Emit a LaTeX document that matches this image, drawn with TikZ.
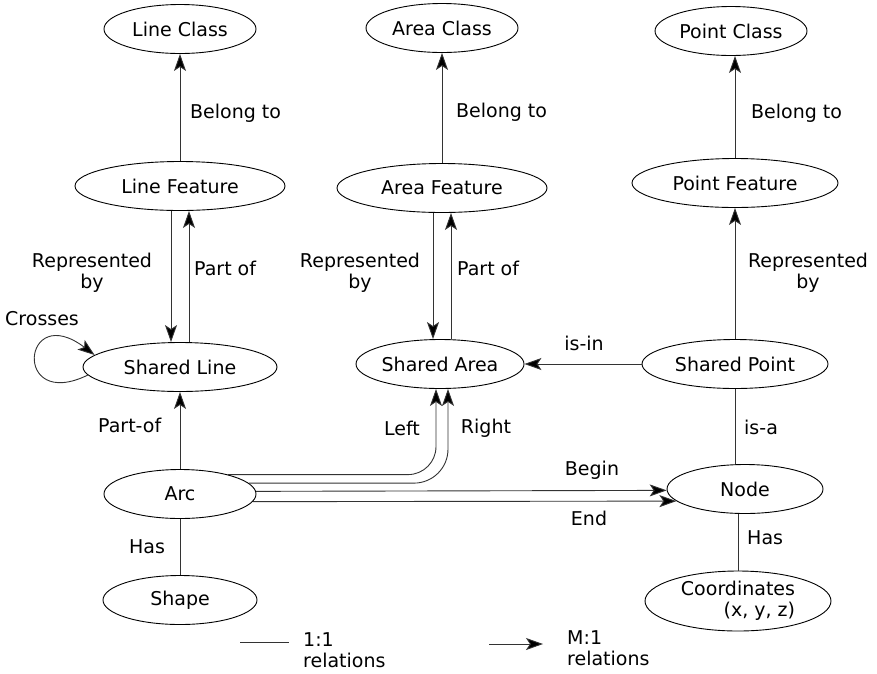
\documentclass[tikz,border=0pt]{standalone}
\usepackage{fontspec}
\setmainfont{DejaVu Sans}
\usetikzlibrary{arrows.meta, shapes.geometric}

\begin{document}
\begin{tikzpicture}[
  x=1pt, y=-1pt,
  font=\fontsize{19}{21}\selectfont,
  ent/.style={draw, ellipse, line width=0.9pt, inner sep=0pt,
              minimum width=#1, minimum height=49pt},
  arr/.style={-{Stealth[length=17pt,width=12pt,inset=4pt,fill=black]},
              line width=0.9pt, color=black!80},
  line/.style={line width=0.9pt, color=black!80},
  lbl/.style={inner sep=0pt},
]
\useasboundingbox (0,0) rectangle (877,673);

%% ---------- Class row ------------------------------------------
\node[ent=152pt] (lclass) at (180,29)  {Line Class};
\node[ent=152pt] (aclass) at (442,28)  {Area Class};
\node[ent=152pt] (pclass) at (731,31)  {Point Class};

%% ---------- Feature row ----------------------------------------
\node[ent=210pt] (lfeat)  at (180,186) {Line Feature};
\node[ent=210pt] (afeat)  at (442,188) {Area Feature};
\node[ent=206pt] (pfeat)  at (735,183) {Point Feature};

%% ---------- Shared row -----------------------------------------
\node[ent=194pt] (sline)  at (180,367) {Shared Line};
\node[ent=168pt] (sarea)  at (440,364) {Shared Area};
\node[ent=186pt] (spoint) at (735,364) {Shared Point};

%% ---------- Arc / Node row -------------------------------------
\node[ent=152pt] (arc)    at (180,494) {Arc};
\node[ent=156pt] (nnode)  at (745,489) {Node};
\node[ent=154pt] (shape)  at (180,600) {Shape};
\node[ent=186pt, minimum height=60pt, align=right] (coords) at (738,601)
      {Coordinates\\(x, y, z)};

%% ---- Arrows ---------------------------------------------------
\draw[arr] (lfeat)  -- (lclass);
\draw[arr] (afeat)  -- (aclass);
\draw[arr] (pfeat)  -- (pfeat |- pclass.south);

\draw[arr] ([xshift=-9pt]lfeat.south) -- ([xshift=-9pt]lfeat.south |- sline.north);
\draw[arr] ([xshift=9pt]sline.north)  -- ([xshift=9pt]sline.north |- lfeat.south);
\draw[arr] ([xshift=-9pt]afeat.south) -- ([xshift=-9pt]afeat.south |- sarea.north);
\draw[arr] ([xshift=11pt]sarea.north) -- ([xshift=11pt]sarea.north |- afeat.south);

\draw[arr] (spoint) -- (pfeat);
\draw[arr] (spoint) -- (sarea);
\draw[arr] (arc)    -- (sline);
\draw[line] (arc)   -- (shape);
\draw[line] (spoint) -- (spoint |- nnode.north);
\draw[line] (coords) -- (coords |- nnode.south);

%% Left / Right faces
\draw[arr, rounded corners=28pt] (arc.22) -| ([xshift=-4pt]sarea.south);
\draw[arr, rounded corners=34pt] (arc.9)  -| ([xshift=8pt]sarea.south);

%% Begin / End
\draw[arr] (arc.2)  -- (nnode.181);
\draw[arr] (arc.-6) -- (nnode.190);

%% Crosses loop
\draw[arr] (sline.185) .. controls (12,412) and (22,300) .. (sline.172);

%% ---- Labels ---------------------------------------------------
\node[lbl, anchor=west] (tbell) at (190,113) {Belong to};
\node[lbl, anchor=west] (tbela) at (456,112) {Belong to};
\node[lbl, anchor=west] (tbelp) at (751,113) {Belong to};
\node[lbl, align=center] (trepl) at (92,273)  {Represented\\by};
\node[lbl, align=center] (trepa) at (360,273) {Represented\\by};
\node[lbl, align=center] (trepp) at (808,273) {Represented\\by};
\node[lbl, anchor=west] (tpartl) at (194,268) {Part of};
\node[lbl, anchor=west] (tparta) at (457,268) {Part of};
\node[lbl, anchor=west] (tcross) at (5,319)   {Crosses};
\node[lbl] (tisin)  at (584,343) {is-in};
\node[lbl, anchor=west] (tpartof) at (98,425) {Part-of};
\node[lbl] (tleft)  at (402,428) {Left};
\node[lbl] (tright) at (486,428) {Right};
\node[lbl] (tbegin) at (592,470) {Begin};
\node[lbl] (tend)   at (589,518) {End};
\node[lbl, anchor=west] (tisa)  at (744,427) {is-a};
\node[lbl] (thasa)  at (147,547) {Has};
\node[lbl, anchor=west] (thasn) at (747,538) {Has};

%% ---- Legend ---------------------------------------------------
\coordinate (kone)  at (240,642);
\coordinate (ktwo)  at (289,642);
\draw[line] (kone) -- (ktwo);
\node[lbl, anchor=west, align=left] (tone) at (303,650) {1:1\\relations};
\coordinate (kmany) at (489,644);
\coordinate (kto)   at (543,644);
\draw[arr] (kmany) -- (kto);
\node[lbl, anchor=west, align=left] (tmany) at (567,648) {M:1\\relations};
\end{tikzpicture}
\end{document}
